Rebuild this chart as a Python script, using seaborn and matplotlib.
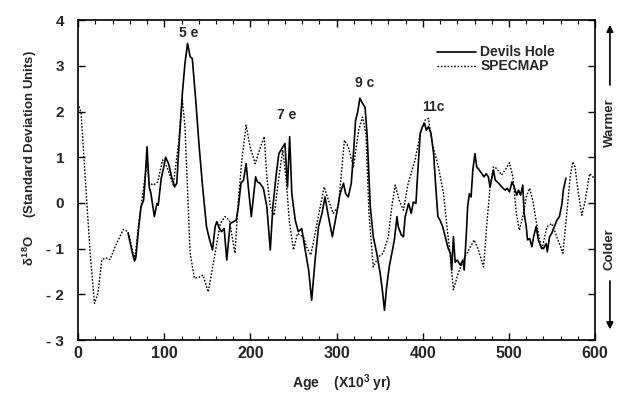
import matplotlib
matplotlib.use("Agg")
import matplotlib.pyplot as plt
import pandas as pd
import seaborn as sns

# Devils Hole record (age in ka, delta18O in standard deviation units)
dh_age = [58, 63, 65.5, 67, 70, 73, 76, 77.5, 80, 82.5,
          84.5, 88.5, 91.5, 93, 96.5, 99, 101.5, 105, 108.5, 112,
          114.5, 117, 121, 124, 127, 130, 132.5, 136.5, 140.5, 144.5,
          149, 152.5, 156, 159, 161, 164, 166.5, 169.5, 172.5, 176.5,
          180.5, 183.5, 186, 189, 192, 195, 197.5, 201, 203.5, 206,
          208, 211, 215, 219, 223, 226, 230, 233, 236.5, 240,
          243, 245.5, 248, 252, 255.5, 259.5, 263.5, 267.5, 271, 275,
          279, 283, 286.5, 290.5, 295, 300, 304, 308, 310.5, 313.5,
          317, 319.5, 322, 324.5, 327, 330, 333, 335.5, 339, 342.5,
          346.5, 350.5, 353, 355.5, 358, 361, 364, 367, 370, 371.5,
          375, 377.5, 379.5, 381.5, 383.5, 386.5, 389, 392, 394, 397,
          399.5, 402, 404, 406.5, 409.5, 412.5, 415, 417.5, 420, 423,
          426, 429.5, 432, 433.5, 435.5, 437.5, 440, 443.5, 446.5, 448,
          450.5, 452, 454, 456, 458, 460.5, 462.5, 465.5, 468.5, 471,
          473.5, 476, 478, 480, 482, 484, 488, 491.5, 495.5, 498,
          500.5, 503.5, 506, 509, 511, 513.5, 516, 517.5, 520, 521.5,
          524, 526.5, 528.5, 531.5, 534, 537, 540, 543, 544.5, 547,
          549.5, 552.5, 555.5, 558.5, 561.5, 563, 566]
dh_d18o = [-0.66, -1.1, -1.27, -1.2, -0.6, -0.08, 0.06, 0.43, 1.23, 0.35,
           0.21, -0.3, -0.01, -0.05, 0.54, 0.75, 1.0, 0.86, 0.57, 0.35,
           0.43, 1.23, 2.4, 3.05, 3.49, 3.2, 3.16, 2.25, 1.23, 0.35,
           -0.52, -0.8, -1.03, -0.52, -0.41, -0.56, -0.63, -0.56, -1.25, -0.45,
           -0.41, -0.38, -0.08, 0.43, 0.5, 0.86, 0.35, -0.3, 0.13, 0.57,
           0.46, 0.43, 0.32, -0.08, -1.03, -0.08, 0.64, 1.08, 1.19, 1.3,
           0.35, 1.45, 0.2, -0.38, -0.63, -0.56, -1.03, -1.47, -2.13, -1.25,
           -0.52, -0.23, 0.13, -0.3, -0.74, -0.23, 0.2, 0.43, 0.2, 0.13,
           0.43, 1.08, 1.81, 2.0, 2.29, 2.18, 2.09, 1.45, -0.08, -0.74,
           -1.1, -1.54, -1.9, -2.35, -1.84, -1.4, -1.1, -0.81, -0.3, -0.52,
           -0.7, -0.74, -0.3, -0.16, -0.01, -0.23, 0.02, -0.01, 0.64, 1.52,
           1.67, 1.74, 1.59, 1.67, 1.52, 1.08, 0.35, -0.3, -0.38, -0.52,
           -0.74, -1.0, -1.1, -1.47, -0.74, -1.3, -1.25, -1.36, -1.25, -1.47,
           -0.67, -0.08, 0.2, 0.13, 0.72, 1.08, 0.79, 0.72, 0.64, 0.57,
           0.64, 0.57, 0.35, 0.54, 0.72, 0.5, 0.43, 0.35, 0.28, 0.32,
           0.24, 0.46, 0.35, 0.17, 0.28, 0.17, 0.39, -0.23, -0.52, -0.81,
           -0.78, -0.96, -0.74, -0.52, -0.81, -0.96, -1.0, -0.89, -1.07, -0.74,
           -0.67, -0.52, -0.38, -0.3, -0.01, 0.28, 0.54]

# SPECMAP stack
spec_age = [0, 3.5, 8, 14, 19, 23, 27.5, 32, 37, 43,
            52.5, 58, 64, 66, 70, 74, 80, 82.5, 87.5, 92.5,
            98, 103, 110.5, 116.5, 121, 124, 130, 135, 140, 145,
            151, 159, 165, 170.5, 175.5, 182, 186, 190, 195, 199.5,
            205.5, 210.5, 216, 219, 223, 227.5, 232.5, 237.5, 241.5, 245,
            250, 254.5, 261.5, 265, 270, 275, 281, 285.5, 290.5, 296,
            302, 309, 313.5, 319.5, 325.5, 330, 334, 337.5, 342.5, 348.5,
            354, 360, 364, 368, 372.5, 377.5, 383, 391, 397, 402.5,
            406.5, 411, 418, 424, 428, 431.5, 435.5, 441, 449, 459.5,
            464.5, 470.5, 474, 478, 482, 486, 491.5, 495.5, 500.5, 504.5,
            508.5, 512, 516, 520, 524, 527.5, 532, 538, 544, 549.5,
            555.5, 562.5, 567, 571, 574, 576.5, 580.5, 584.5, 588.5, 593.5,
            597, 600]
spec_d18o = [2.18, 1.96, 0.64, -1.1, -2.2, -1.98, -1.25, -1.2, -1.24, -0.96,
             -0.58, -0.63, -1.1, -1.2, -0.52, 0.06, 0.9, 0.43, 0.39, 0.46,
             0.94, 0.79, 0.39, 1.3, 2.25, 1.67, -1.1, -1.65, -1.63, -1.58,
             -1.95, -1.1, -0.45, -0.3, -0.38, -1.1, 0.06, 0.94, 1.7, 1.23,
             0.86, 1.16, 1.45, 0.57, -0.08, -0.27, 0.5, 1.16, 0.5, -0.38,
             -1.03, -0.67, -0.74, -0.96, -1.14, -0.67, -0.08, 0.35, 0.06, -0.23,
             -0.08, 1.37, 1.23, 0.79, 1.59, 1.88, 1.52, -0.23, -1.4, -1.18,
             -1.1, -0.74, -0.08, 0.39, 0.06, -0.16, 0.43, 0.94, 1.52, 1.81,
             1.85, 1.3, 0.79, 0.21, -0.52, -1.1, -1.9, -1.54, -1.18, -0.81,
             -1.03, -1.4, -0.52, 0.35, 0.79, 0.75, 0.61, 0.72, 0.88, 0.57,
             -0.23, -0.6, -0.3, 0.13, 0.32, 0.06, -0.45, -1.03, -0.52, -0.45,
             -0.74, -1.1, -0.23, 0.57, 0.9, 0.79, 0.21, -0.27, 0.06, 0.64,
             0.57, 0.55]

# stage labels
stage_names = ["5 e", "7 e", "9 c", "11c"]
stage_age = [128, 242, 333, 412]
stage_y = [3.72, 1.92, 2.62, 2.1]

x_ticks = [0, 100, 200, 300, 400, 500, 600]
y_ticks = [-3, -2, -1, 0, 1, 2, 3, 4]
y_ticklabels = ["- 3", "- 2", "- 1", "0", "1", "2", "3", "4"]

sns.set_theme(style="ticks")
plt.rcParams["font.family"] = ["Liberation Sans", "DejaVu Sans"]
plt.rcParams["font.weight"] = "bold"
plt.rcParams["mathtext.fontset"] = "custom"
plt.rcParams["mathtext.rm"] = "Liberation Sans:bold"
plt.rcParams["mathtext.it"] = "Liberation Sans:bold"
plt.rcParams["mathtext.bf"] = "Liberation Sans:bold"

dh = pd.DataFrame({"age": dh_age, "d18o": dh_d18o})
spec = pd.DataFrame({"age": spec_age, "d18o": spec_d18o})

fig = plt.figure(figsize=(6.4, 3.94), dpi=100)
ax = fig.add_axes([0.122, 0.137, 0.808, 0.812])

sns.lineplot(data=dh, x="age", y="d18o", sort=False, estimator=None,
             color="black", lw=1.2, ax=ax, label="Devils Hole")
sns.lineplot(data=spec, x="age", y="d18o", sort=False, estimator=None,
             color="black", lw=1.0, linestyle=(0, (1.2, 1.2)), ax=ax, label="SPECMAP")

for name, xa, ya in zip(stage_names, stage_age, stage_y):
    ax.text(xa, ya, name, ha="center", va="center", fontsize=10, fontweight="bold")

ax.set_xlim(0, 600)
ax.set_ylim(-3, 4)
ax.set_xticks(x_ticks)
ax.set_xticks(range(0, 601, 20), minor=True)
ax.set_xticklabels([str(t) for t in x_ticks], fontsize=11.5, fontweight="bold")
ax.set_yticks(y_ticks)
ax.set_yticklabels(y_ticklabels, fontsize=11, fontweight="bold")
ax.tick_params(axis="both", which="major", direction="in", length=5, width=1,
               top=True, right=True, color="black")
ax.tick_params(axis="x", which="minor", direction="in", length=3, width=0.8,
               top=True, bottom=True, color="black")
ax.tick_params(axis="y", which="major", pad=10)
ax.tick_params(axis="x", which="major", pad=4)
for sp in ax.spines.values():
    sp.set_linewidth(1.2)
    sp.set_color("black")
    sp.set_visible(True)

ax.set_xlabel(r"Age    (X10$^3$ yr)", fontsize=10, fontweight="bold")
ax.xaxis.set_label_coords(0.51, -0.1)
ax.set_ylabel(r"$\delta^{18}$O     (Standard Deviation Units)", fontsize=9.5, fontweight="bold")
ax.yaxis.set_label_coords(-0.075, 0.57)

leg = ax.legend(loc="upper left", bbox_to_anchor=(0.67, 0.96), frameon=False,
                handlelength=2.8, handletextpad=0.3, labelspacing=0.0,
                prop={"size": 10, "weight": "bold"})

# warmer / colder annotations on the right
fig.text(0.953, 0.69, "Warmer", rotation=90, ha="center", va="center",
         fontsize=9.5, fontweight="bold")
fig.text(0.953, 0.368, "Colder", rotation=90, ha="center", va="center",
         fontsize=9.5, fontweight="bold")
ax.annotate("", xy=(0.953, 0.944), xytext=(0.953, 0.777), xycoords="figure fraction",
            textcoords="figure fraction",
            arrowprops=dict(arrowstyle="-|>", color="black", lw=1.2, mutation_scale=10))
ax.annotate("", xy=(0.953, 0.157), xytext=(0.953, 0.294), xycoords="figure fraction",
            textcoords="figure fraction",
            arrowprops=dict(arrowstyle="-|>", color="black", lw=1.2, mutation_scale=10))

fig.savefig("out.png", dpi=100, facecolor="white")
